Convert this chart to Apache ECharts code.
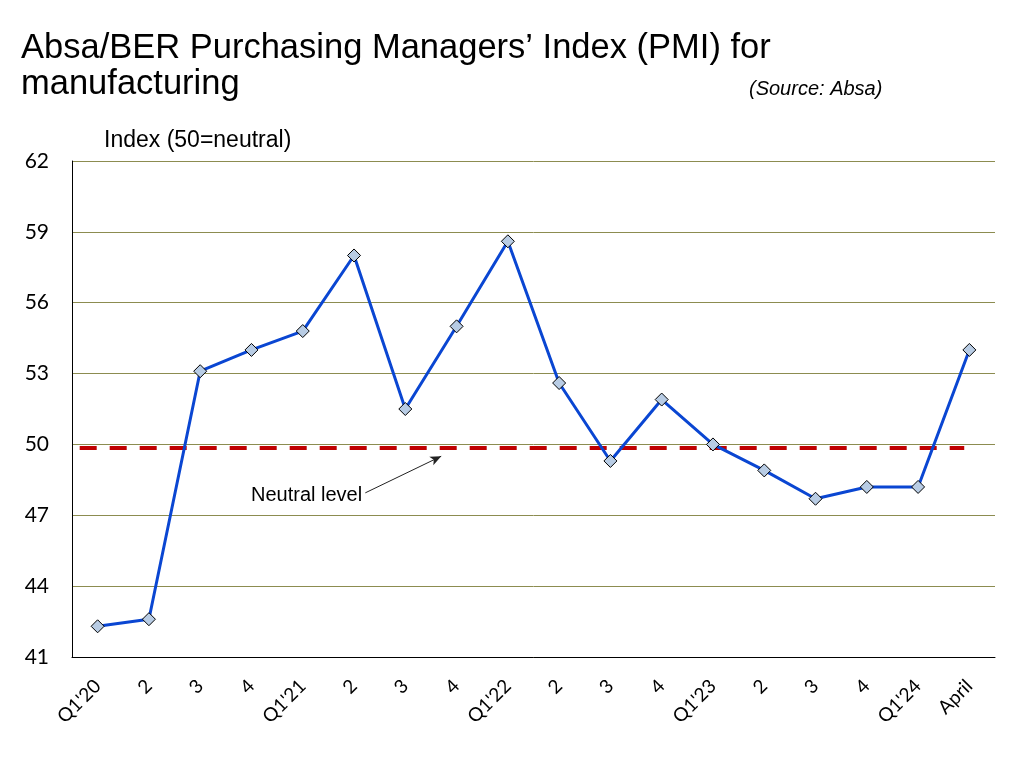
<!DOCTYPE html>
<html>
<head>
<meta charset="utf-8">
<script src="https://cdn.jsdelivr.net/npm/echarts@6/dist/echarts.min.js"></script>
<style>
  html, body { margin: 0; padding: 0; background: #fff; }
  #chart { width: 1015px; height: 763px; }
</style>
</head>
<body>
<div id="chart"></div>
<script>
// quarterly PMI readings, then the latest month
const categories = ["Q1'20", '2', '3', '4', "Q1'21", '2', '3', '4', "Q1'22", '2', '3', '4', "Q1'23", '2', '3', '4', "Q1'24", 'April']
const pmiValues = [42.3, 42.6, 53.1, 54.0, 54.8, 58.0, 51.5, 55.0, 58.6, 52.6, 49.3, 51.9, 50.0, 48.9, 47.7, 48.2, 48.2, 54.0]
const yTicks = { min: 41, max: 62, interval: 3 }
// neutral reference line, drawn on a hidden value axis (0..18 spans the categories)
const neutralLine = [[0.15, 49.85], [17.4, 49.85]]
const neutralArrow = [[5.72, 47.95], [7.2, 49.5]]

const chart = echarts.init(document.getElementById('chart'))

const gridColor = '#8c8c50'
const arial = '"Liberation Sans", Arial, sans-serif'
const calibriLike = 'Lato, "Open Sans", sans-serif'

chart.setOption({
  backgroundColor: '#fff',
  animation: false,
  title: [
    {
      text: 'Absa/BER Purchasing Managers\u2019 Index (PMI) for\nmanufacturing',
      left: 16,
      top: 25,
      textStyle: {
        fontFamily: arial,
        fontSize: 34.5,
        fontWeight: 'normal',
        color: '#000',
        lineHeight: 36
      }
    },
    {
      text: '(Source: Absa)',
      left: 744,
      top: 74,
      textStyle: {
        fontFamily: arial,
        fontSize: 20,
        fontStyle: 'italic',
        fontWeight: 'normal',
        color: '#000'
      }
    },
    {
      text: 'Index (50=neutral)',
      left: 99,
      top: 124,
      textStyle: {
        fontFamily: arial,
        fontSize: 23,
        fontWeight: 'normal',
        color: '#000'
      }
    }
  ],
  grid: {
    left: 72,
    right: 20,
    top: 161,
    bottom: 106
  },
  xAxis: [
    {
      type: 'category',
      data: categories,
      boundaryGap: true,
      axisLine: { lineStyle: { color: '#000', width: 1 } },
      axisTick: { show: false },
      axisLabel: {
        rotate: 45,
        margin: 26,
        fontSize: 19,
        fontFamily: calibriLike,
        color: '#000',
        interval: 0
      }
    },
    {
      type: 'value',
      min: 0,
      max: 18,
      show: false
    }
  ],
  yAxis: {
    type: 'value',
    min: yTicks.min,
    max: yTicks.max,
    interval: yTicks.interval,
    axisLine: { show: true, lineStyle: { color: '#000', width: 1 } },
    axisTick: { show: false },
    axisLabel: {
      margin: 23,
      fontSize: 21,
      fontFamily: calibriLike,
      color: '#000'
    },
    splitLine: { lineStyle: { color: gridColor, width: 1 } }
  },
  graphic: [
    {
      type: 'text',
      left: 251,
      top: 485,
      style: {
        text: 'Neutral level',
        font: '20px "Liberation Sans", Arial, sans-serif',
        fill: '#000'
      }
    }
  ],
  series: [
    {
      name: 'Neutral',
      type: 'line',
      xAxisIndex: 1,
      data: neutralLine,
      symbol: 'none',
      silent: true,
      z: 1,
      lineStyle: { color: '#c00000', width: 4, type: [17, 13] },
      markLine: {
        silent: true,
        symbol: ['none', 'arrow'],
        symbolSize: [7, 11],
        label: { show: false },
        lineStyle: { color: '#222', width: 1, type: 'solid' },
        data: [[{ coord: neutralArrow[0] }, { coord: neutralArrow[1] }]]
      }
    },
    {
      name: 'PMI',
      type: 'line',
      data: pmiValues,
      symbol: 'diamond',
      symbolSize: 13,
      z: 3,
      lineStyle: { color: '#0a46d2', width: 3 },
      itemStyle: { color: '#b8cce4', borderColor: '#000', borderWidth: 1 }
    }
  ]
})
</script>
</body>
</html>
